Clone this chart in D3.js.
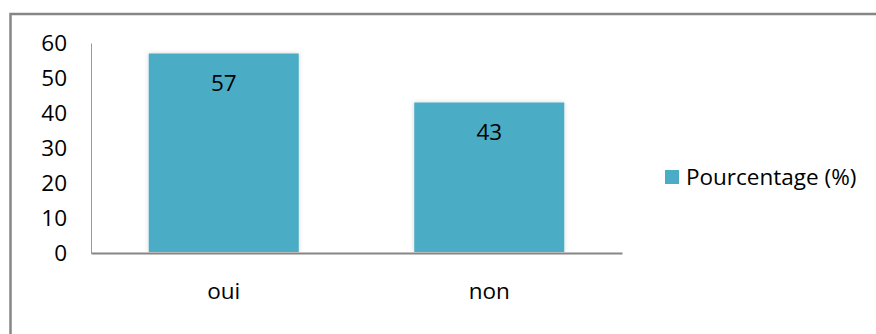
<!DOCTYPE html>
<html>
<head>
<meta charset="utf-8">
<script src="https://cdnjs.cloudflare.com/ajax/libs/d3/7.8.5/d3.min.js"></script>
<style>
    body { margin: 0; background: #fff; }
    text { font-family: "Open Sans", Lato, sans-serif; fill: #000; }
</style>
</head>
<body>
<div id="chart"></div>
<script>
var categories = ["oui", "non"];
var values = [57, 43];
var yTicks = [0, 10, 20, 30, 40, 50, 60];
var seriesName = "Pourcentage (%)";

function init() {
    var w = 876;
    var h = 334;
    var left = 91, right = 622, top = 43, bottom = 253;
    var barColor = "#4bacc6";
    var fontSize = "22.5px";

    var svg = d3.select("#chart")
        .append("svg")
        .attr("width", w)
        .attr("height", h);

    // soft glow around the bars
    var defs = svg.append("defs");
    var filter = defs.append("filter")
        .attr("id", "shadow")
        .attr("x", "-10%").attr("y", "-10%")
        .attr("width", "120%").attr("height", "120%");
    filter.append("feDropShadow")
        .attr("dx", 0).attr("dy", 0)
        .attr("stdDeviation", 2)
        .attr("flood-color", "#000")
        .attr("flood-opacity", 0.18);

    // outer frame, runs off the canvas on the right and bottom
    svg.append("rect")
        .attr("x", 10.5)
        .attr("y", 14)
        .attr("width", w + 20)
        .attr("height", h + 20)
        .attr("fill", "none")
        .attr("stroke", "#868686")
        .attr("stroke-width", 2.5);

    var xScale = d3.scaleBand()
        .domain(categories)
        .range([left, right])
        .paddingInner(0.435)
        .paddingOuter(0.2175);

    var yScale = d3.scaleLinear()
        .domain([0, 60])
        .range([bottom, top]);

    // y axis
    var yAxis = d3.axisLeft(yScale)
        .tickValues(yTicks)
        .tickSize(0)
        .tickPadding(24);

    var gy = svg.append("g")
        .attr("transform", "translate(" + left + ",0)")
        .call(yAxis);
    gy.select(".domain")
        .attr("stroke", "#9a9a9a")
        .attr("stroke-width", 1);
    gy.selectAll("text")
        .style("font-size", fontSize)
        .attr("fill", "#000");

    // bars
    svg.selectAll("rect.bar")
        .data(values)
        .enter()
        .append("rect")
        .attr("class", "bar")
        .attr("x", function(d, i) { return xScale(categories[i]); })
        .attr("y", function(d) { return yScale(d); })
        .attr("width", xScale.bandwidth())
        .attr("height", function(d) { return bottom - 1 - yScale(d); })
        .attr("fill", barColor)
        .attr("filter", "url(#shadow)");

    // value labels
    svg.selectAll("text.val")
        .data(values)
        .enter()
        .append("text")
        .attr("class", "val")
        .text(function(d) { return d; })
        .attr("x", function(d, i) { return xScale(categories[i]) + xScale.bandwidth() / 2; })
        .attr("y", function(d) { return yScale(d) + 37; })
        .attr("text-anchor", "middle")
        .style("font-size", fontSize);

    // x axis
    var xAxis = d3.axisBottom(xScale)
        .tickSize(0)
        .tickPadding(30);

    var gx = svg.append("g")
        .attr("transform", "translate(0," + bottom + ")")
        .call(xAxis);
    gx.select(".domain")
        .attr("stroke", "#868686")
        .attr("stroke-width", 2);
    gx.selectAll("text")
        .style("font-size", fontSize)
        .attr("fill", "#000");

    // legend
    var legend = svg.append("g")
        .attr("transform", "translate(665,170)");
    legend.append("rect")
        .attr("width", 14)
        .attr("height", 14)
        .attr("fill", barColor);
    legend.append("text")
        .attr("x", 21)
        .attr("y", 14.5)
        .style("font-size", fontSize)
        .text(seriesName);
}

window.onload = init;
</script>
</body>
</html>
